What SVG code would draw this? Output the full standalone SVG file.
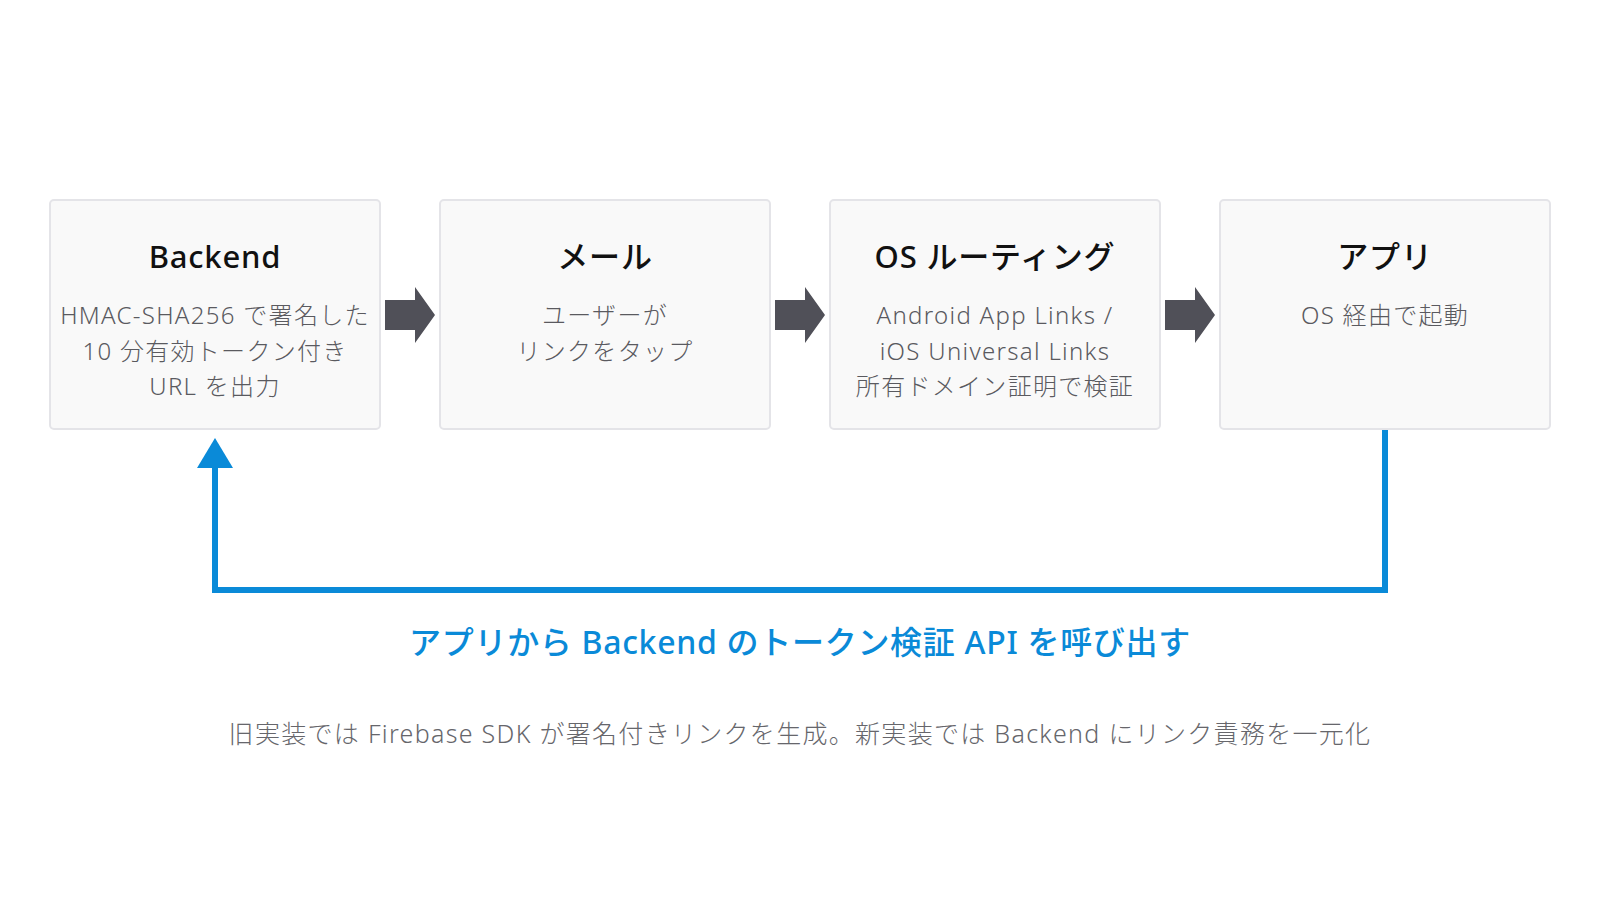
<svg xmlns="http://www.w3.org/2000/svg" width="1600" height="900" viewBox="0 0 1600 900">
<style>
.box{fill:#f9f9f9;stroke:#e4e4e8;stroke-width:2}
.t{font-family:"Noto Sans","Noto Sans CJK JP",sans-serif;font-size:31px;font-weight:500;fill:#111;text-anchor:middle;letter-spacing:0.8px}
.s{font-family:"Noto Sans","Noto Sans CJK JP",sans-serif;font-size:24px;font-weight:300;fill:#5a5a5f;text-anchor:middle;letter-spacing:1.3px}
.flow{fill:#505058}
.blue{font-family:"Noto Sans","Noto Sans CJK JP",sans-serif;font-size:32px;font-weight:500;fill:#0a8ad8;text-anchor:middle;letter-spacing:0.7px}
.foot{font-family:"Noto Sans","Noto Sans CJK JP",sans-serif;font-size:25px;font-weight:300;fill:#66666b;text-anchor:middle;letter-spacing:1.3px}
</style>
<rect width="1600" height="900" fill="#ffffff"/>
<g id="node-backend">
<rect class="box" x="50" y="200" width="330" height="229" rx="4"/>
<text class="t" x="215" y="268">Backend</text>
<text class="s" x="215" y="324">HMAC-SHA256 で署名した</text>
<text class="s" x="215" y="360">10 分有効トークン付き</text>
<text class="s" x="215" y="395">URL を出力</text>
</g>
<g id="node-mail">
<rect class="box" x="440" y="200" width="330" height="229" rx="4"/>
<text class="t" x="605" y="268">メール</text>
<text class="s" x="605" y="324">ユーザーが</text>
<text class="s" x="605" y="360">リンクをタップ</text>
</g>
<g id="node-os">
<rect class="box" x="830" y="200" width="330" height="229" rx="4"/>
<text class="t" x="995" y="268">OS ルーティング</text>
<text class="s" x="995" y="324">Android App Links /</text>
<text class="s" x="995" y="360">iOS Universal Links</text>
<text class="s" x="995" y="395">所有ドメイン証明で検証</text>
</g>
<g id="node-app">
<rect class="box" x="1220" y="200" width="330" height="229" rx="4"/>
<text class="t" x="1385" y="268">アプリ</text>
<text class="s" x="1385" y="324">OS 経由で起動</text>
</g>
<g id="connectors">
<path class="flow" d="M385 300H415V287L435 315L415 343V330H385Z"/>
<path class="flow" d="M775 300H805V287L825 315L805 343V330H775Z"/>
<path class="flow" d="M1165 300H1195V287L1215 315L1195 343V330H1165Z"/>
<path d="M1385 430V590H215V466" fill="none" stroke="#0a8ad8" stroke-width="6"/>
<path d="M215 438L233 468H197Z" fill="#0a8ad8"/>
</g>
<text class="blue" x="800" y="654">アプリから Backend のトークン検証 API を呼び出す</text>
<text class="foot" x="800" y="743">旧実装では Firebase SDK が署名付きリンクを生成。新実装では Backend にリンク責務を一元化</text>
</svg>
